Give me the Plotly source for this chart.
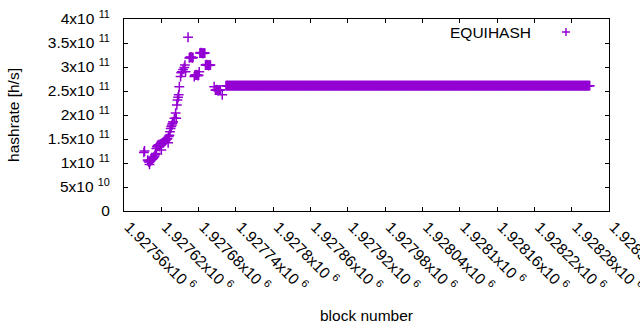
import plotly.graph_objects as go

# ---- data ----
early_blocks = [
    1927592, 1927593, 1927598, 1927599, 1927600, 1927601, 1927602, 1927603,
    1927604, 1927605, 1927606, 1927607, 1927608, 1927609, 1927610, 1927611,
    1927612, 1927613, 1927614, 1927615, 1927616, 1927617, 1927618, 1927619,
    1927620, 1927621, 1927622, 1927623, 1927624, 1927625, 1927626, 1927627,
    1927628, 1927629, 1927630, 1927631, 1927632, 1927633, 1927634, 1927635,
    1927636, 1927637, 1927638, 1927639, 1927641, 1927643, 1927644, 1927645,
    1927646, 1927647, 1927648, 1927649, 1927651, 1927652, 1927653, 1927655,
    1927657, 1927658, 1927659, 1927663,
    1927665, 1927666, 1927667, 1927668, 1927669, 1927670, 1927671,
    1927673, 1927674, 1927675, 1927676, 1927677, 1927678, 1927679, 1927680,
    1927681,
    1927682, 1927683, 1927684, 1927685, 1927686, 1927687, 1927688, 1927689, 1927690,
    1927691, 1927692, 1927693, 1927694, 1927695, 1927696, 1927697, 1927698, 1927699,
    1927705,
    1927707, 1927708, 1927709, 1927710, 1927711, 1927712, 1927713, 1927714, 1927715,
    1927718,
]
early_hashrate = [
    1.22e11, 1.25e11, 1.06e11, 1.04e11, 1.02e11, 0.97e11, 1.03e11, 1.05e11,
    1.07e11, 1.08e11, 1.09e11, 1.10e11, 1.12e11, 1.14e11, 1.17e11, 1.20e11,
    1.30e11, 1.34e11, 1.36e11, 1.37e11, 1.38e11, 1.34e11, 1.39e11, 1.40e11,
    1.27e11, 1.41e11, 1.42e11, 1.43e11, 1.44e11, 1.45e11, 1.46e11, 1.47e11,
    1.49e11, 1.50e11, 1.51e11, 1.42e11, 1.55e11, 1.58e11, 1.65e11, 1.72e11,
    1.76e11, 1.79e11, 1.83e11, 1.86e11, 1.93e11, 2.04e11, 1.93e11, 2.21e11,
    2.31e11, 2.37e11, 2.42e11, 2.59e11, 2.80e11, 2.88e11, 2.90e11, 2.95e11,
    2.99e11, 3.04e11, 2.90e11, 3.62e11,
    3.19e11, 3.20e11, 3.21e11, 3.20e11, 3.20e11, 3.19e11, 3.20e11,
    2.80e11, 2.83e11, 2.83e11, 2.84e11, 2.83e11, 2.83e11, 2.82e11, 2.83e11,
    2.90e11,
    3.29e11, 3.29e11, 3.30e11, 3.29e11, 3.29e11, 3.28e11, 3.29e11, 3.29e11, 3.29e11,
    3.04e11, 3.04e11, 3.05e11, 3.04e11, 3.04e11, 3.03e11, 3.04e11, 3.04e11, 3.04e11,
    2.59e11,
    2.52e11, 2.52e11, 2.53e11, 2.52e11, 2.51e11, 2.52e11, 2.52e11, 2.52e11, 2.52e11,
    2.42e11,
]
# long flat stretch: one point per block at a constant rate
flat_first_block = 1927724
flat_last_block = 1928309
flat_hashrate = 2.61e11

x_tick_values = [1927560 + 60 * k for k in range(14)]
x_tick_labels = [
    "1.92756x10\u00a0<sup>6</sup>", "1.92762x10\u00a0<sup>6</sup>", "1.92768x10\u00a0<sup>6</sup>",
    "1.92774x10\u00a0<sup>6</sup>", "1.9278x10\u00a0<sup>6</sup>", "1.92786x10\u00a0<sup>6</sup>",
    "1.92792x10\u00a0<sup>6</sup>", "1.92798x10\u00a0<sup>6</sup>", "1.92804x10\u00a0<sup>6</sup>",
    "1.9281x10\u00a0<sup>6</sup>", "1.92816x10\u00a0<sup>6</sup>", "1.92822x10\u00a0<sup>6</sup>",
    "1.92828x10\u00a0<sup>6</sup>", "1.92834x10\u00a0<sup>6</sup>",
]
y_tick_values = [0, 5e10, 1e11, 1.5e11, 2e11, 2.5e11, 3e11, 3.5e11, 4e11]
y_tick_labels = [
    "0", "5x10\u00a0<sup>10</sup>", "1x10\u00a0<sup>11</sup>", "1.5x10\u00a0<sup>11</sup>",
    "2x10\u00a0<sup>11</sup>", "2.5x10\u00a0<sup>11</sup>", "3x10\u00a0<sup>11</sup>",
    "3.5x10\u00a0<sup>11</sup>", "4x10\u00a0<sup>11</sup>",
]

series_name = "EQUIHASH"
color = "#9400D3"

flat_blocks = list(range(flat_first_block, flat_last_block + 1))
blocks = early_blocks + flat_blocks
rates = early_hashrate + [flat_hashrate] * len(flat_blocks)

font = dict(family="Liberation Sans, Arial, sans-serif", size=15.5, color="black")

fig = go.Figure()
fig.add_trace(go.Scatter(
    x=blocks, y=rates, mode="markers", name=series_name,
    marker=dict(symbol="cross-thin", size=7, line=dict(color=color, width=1.5), color=color),
    showlegend=False, cliponaxis=False,
))

axis_common = dict(
    showgrid=False, zeroline=False, showline=True, linecolor="black", linewidth=1,
    mirror="ticks", ticks="inside", ticklen=4, tickcolor="black", tickwidth=1,
    tickfont=font, automargin=False, ticklabeloverflow="allow",
)
fig.update_xaxes(
    range=[1927560, 1928340], tickmode="array", tickvals=x_tick_values,
    ticktext=x_tick_labels, tickangle=45, ticklabelshift=5,
    title=dict(text="block number", font=font, standoff=16), **axis_common,
)
fig.update_yaxes(
    range=[0, 4e11], tickmode="array", tickvals=y_tick_values,
    ticktext=y_tick_labels, ticklabelstandoff=10,
    title=dict(text="hashrate [h/s]", font=font, standoff=24), **axis_common,
)

# gnuplot-style key: label on the left, sample on the right
key_x, key_y = (566 - 124) / 485, (211 - 32) / 192
fig.add_annotation(
    xref="paper", yref="paper", x=(533 - 124) / 485, y=key_y, text=series_name,
    showarrow=False, xanchor="right", yanchor="middle", font=font,
)
for dx0, dx1, dy0, dy1 in [(-4, 4, 0, 0), (0, 0, -4, 4)]:
    fig.add_shape(
        type="line", xref="paper", yref="paper",
        xsizemode="pixel", ysizemode="pixel", xanchor=key_x, yanchor=key_y,
        x0=dx0, x1=dx1, y0=dy0, y1=dy1, line=dict(color=color, width=1.5),
    )

fig.update_layout(
    width=640, height=330, paper_bgcolor="white", plot_bgcolor="white",
    margin=dict(l=124, r=31, t=19, b=119, autoexpand=False),
    font=font,
)
fig.write_html(
    "out.html",
    config={"displayModeBar": False},
    post_script="document.body.style.margin='0';document.body.style.overflow='hidden';",
)
